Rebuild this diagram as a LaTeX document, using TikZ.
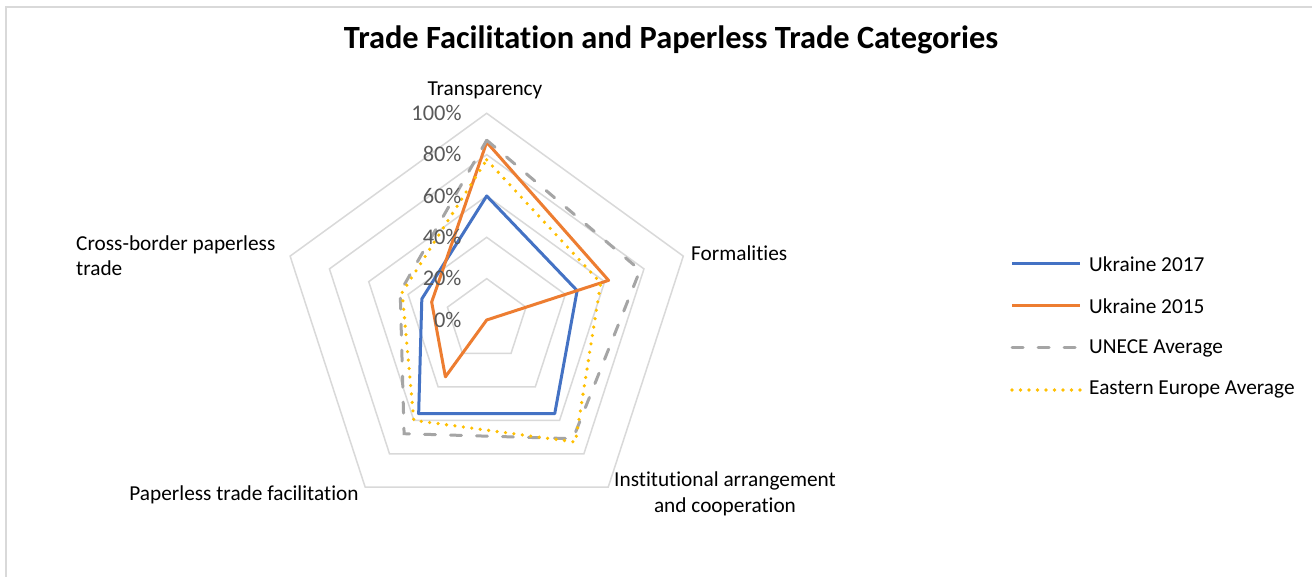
\documentclass[tikz,border=0pt]{standalone}
\usepackage{fontspec}
\setmainfont{Carlito}[Ligatures={NoCommon}]
\definecolor{ublue}{HTML}{4472C4}
\definecolor{uorange}{HTML}{ED7D31}
\definecolor{ugray}{HTML}{A5A5A5}
\definecolor{uyellow}{HTML}{FFC000}
\definecolor{gridc}{HTML}{D9D9D9}
\definecolor{tickc}{HTML}{595959}
\newcommand\radarpoly[6]{\draw[#1] (90:{#2*206.7}) -- (18:{#3*206.7}) -- (-54:{#4*206.7}) -- (-126:{#5*206.7}) -- (162:{#6*206.7}) -- cycle;}
\begin{document}
\begin{tikzpicture}[x=1pt,y=1pt,
  gridline/.style={draw=gridc,line width=1.5pt},
  frameline/.style={draw=gridc,line width=1.5pt},
  s17/.style={draw=ublue,line width=3pt,line join=round},
  s15/.style={draw=uorange,line width=3pt,line join=round},
  sun/.style={draw=ugray,line width=3pt,line cap=round,dash pattern=on 11pt off 15pt},
  see/.style={draw=uyellow,line width=3.6pt,line cap=round,dash pattern=on 0pt off 8.5pt},
  lbl/.style={font=\fontsize{21.3}{25.5}\selectfont,text=black,inner sep=0pt},
  tick/.style={font=\fontsize{22.4}{26}\selectfont,text=tickc,inner sep=0pt,anchor=east},
  ttl/.style={font=\fontsize{32.4}{36}\selectfont\bfseries,text=black,inner sep=0pt}]
\useasboundingbox (0,0) rectangle (1312,577);
\fill[white] (0,0) rectangle (1312,577);
\coordinate (fa) at (6,0);
\coordinate (fb) at (6,570);
\coordinate (fc) at (1312,570);
\draw[frameline] (fa) -- (fb) -- (fc);
\node[ttl] (title) at (671,537) {Trade Facilitation and Paperless Trade Categories};
\begin{scope}[shift={(486.7,257)}]
  \coordinate (ctr) at (0,0);
  \foreach \k in {1,...,5}{
    \draw[gridline] (90:{\k*41.34}) -- (18:{\k*41.34}) -- (-54:{\k*41.34}) -- (-126:{\k*41.34}) -- (162:{\k*41.34}) -- cycle;
  }
  \radarpoly{s17}{0.60}{0.46}{0.56}{0.56}{0.33}
  \radarpoly{s15}{0.86}{0.62}{0.0}{0.34}{0.28}
  \radarpoly{sun}{0.87}{0.78}{0.71}{0.68}{0.44}
  \radarpoly{see}{0.775}{0.58}{0.73}{0.60}{0.43}
\end{scope}
\node[tick] (t100) at (461.7,464) {100\%};
\node[tick] (t80) at (461.7,422.6) {80\%};
\node[tick] (t60) at (461.7,381.3) {60\%};
\node[tick] (t40) at (461.7,340) {40\%};
\node[tick] (t20) at (461.7,298.6) {20\%};
\node[tick] (t0) at (461.7,257.3) {0\%};
\node[lbl] (ax1) at (485,487) {Transparency};
\node[lbl,anchor=west] (ax2) at (691,324) {Formalities};
\node[lbl,align=center] (ax3) at (725,83) {Institutional arrangement\\and cooperation};
\node[lbl] (ax4) at (244,82) {Paperless trade facilitation};
\node[lbl,align=left,anchor=west] (ax5) at (76,321.5) {Cross-border paperless\\trade};
\coordinate (l1a) at (1012,313); \coordinate (l1b) at (1080,313);
\coordinate (l2a) at (1012,271); \coordinate (l2b) at (1080,271);
\coordinate (l3a) at (1012,229); \coordinate (l3b) at (1080,229);
\coordinate (l4a) at (1012,187); \coordinate (l4b) at (1080,187);
\draw[s17] (l1a) -- (l1b);
\draw[s15] (l2a) -- (l2b);
\draw[sun] (l3a) -- (l3b);
\draw[see] (l4a) -- (l4b);
\node[lbl,anchor=west] (lg1) at (1089,313) {Ukraine 2017};
\node[lbl,anchor=west] (lg2) at (1089,271) {Ukraine 2015};
\node[lbl,anchor=west] (lg3) at (1089,229) {UNECE Average};
\node[lbl,anchor=west] (lg4) at (1089,187) {Eastern Europe Average};
\end{tikzpicture}
\end{document}
